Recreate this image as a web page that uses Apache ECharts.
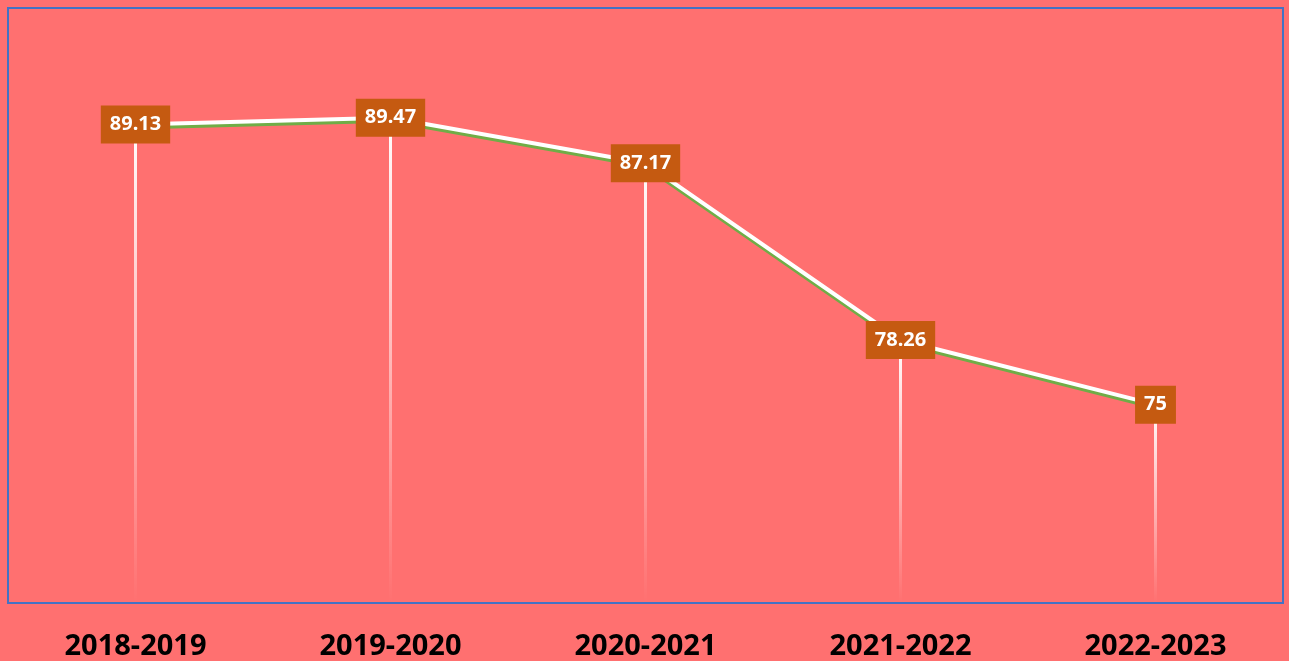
<!DOCTYPE html>
<html>
<head>
<meta charset="utf-8">
<script src="https://cdn.jsdelivr.net/npm/echarts@6/dist/echarts.min.js"></script>
<style>
  html, body { margin: 0; padding: 0; background: #ff7070; }
  #main { width: 1289px; height: 661px; }
</style>
</head>
<body>
<div id="main"></div>
<script>
// 学年数据
var years = ['2018-2019', '2019-2020', '2020-2021', '2021-2022', '2022-2023'];
var values = [89.13, 89.47, 87.17, 78.26, 75];

var chart = echarts.init(document.getElementById('main'));

var option = {
    backgroundColor: '#ff7070',
    animation: false,
    grid: {
        left: 8,
        right: 6,
        top: 8,
        bottom: 57,
        show: true,
        borderColor: '#4472c4',
        borderWidth: 2,
        backgroundColor: 'transparent'
    },
    xAxis: {
        type: 'category',
        data: years,
        axisLine: { show: false },
        axisTick: { show: false },
        axisLabel: {
            color: '#000',
            fontFamily: 'Noto Sans',
            fontWeight: 'bold',
            fontSize: 29,
            margin: 29
        }
    },
    yAxis: {
        type: 'value',
        min: 65,
        max: 95,
        show: false,
        splitLine: { show: false }
    },
    series: [
        {
            // 下垂线
            type: 'bar',
            data: values,
            barWidth: 3,
            silent: true,
            z: 1,
            itemStyle: {
                color: new echarts.graphic.LinearGradient(0, 0, 0, 1, [
                    { offset: 0, color: 'rgba(255,255,255,1)' },
                    { offset: 1, color: 'rgba(255,255,255,0)' }
                ])
            }
        },
        {
            type: 'line',
            data: values,
            z: 3,
            symbol: 'circle',
            symbolSize: 1,
            itemStyle: { color: 'rgba(0,0,0,0)' },
            lineStyle: {
                color: '#ffffff',
                width: 4,
                shadowColor: '#70ad47',
                shadowBlur: 0,
                shadowOffsetY: 3
            },
            label: {
                show: true,
                position: 'inside',
                color: '#ffffff',
                fontFamily: 'Noto Sans',
                fontWeight: 'bold',
                fontSize: 20,
                backgroundColor: '#c55a11',
                padding: [9, 9, 9, 9]
            }
        }
    ]
};

chart.setOption(option);
</script>
</body>
</html>
